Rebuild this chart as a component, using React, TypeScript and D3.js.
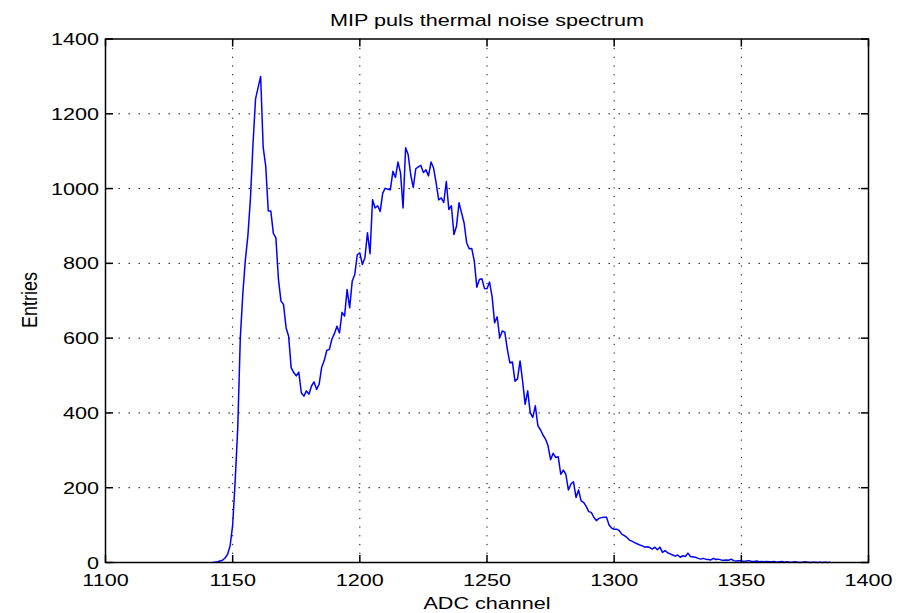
import React from "react";
import * as d3 from "d3";

const startChannel = 1142;
const entries = [
  0, 1, 2, 4, 6, 12, 22, 45, 100, 220,
  360, 600, 720, 810, 875, 975, 1120, 1240, 1270, 1300,
  1110, 1060, 940, 940, 880, 868, 757, 699, 690, 628,
  605, 521, 508, 499, 509, 454, 445, 459, 450, 472,
  483, 463, 477, 522, 540, 567, 570, 597, 612, 632,
  614, 669, 659, 730, 681, 752, 770, 823, 828, 797,
  815, 882, 826, 970, 948, 954, 939, 988, 1001, 998,
  997, 1046, 1030, 1071, 1042, 948, 1109, 1091, 1037, 1003,
  1053, 1058, 1062, 1043, 1050, 1034, 1071, 1055, 1015, 970,
  975, 963, 1019, 944, 954, 877, 899, 962, 935, 908,
  855, 839, 840, 806, 736, 757, 759, 733, 732, 750,
  711, 641, 657, 601, 619, 616, 570, 534, 536, 485,
  491, 539, 485, 423, 459, 401, 388, 419, 366, 355,
  341, 330, 312, 275, 292, 281, 283, 236, 247, 236,
  194, 210, 216, 174, 194, 165, 161, 150, 136, 134,
  121, 112, 118, 120, 121, 121, 100, 92, 89, 89,
  85, 76, 72, 67, 60, 57, 53, 50, 47, 45,
  41, 42, 40, 36, 41, 34, 41, 27, 32, 26,
  23, 20, 17, 20, 14, 18, 16, 25, 16, 15,
  14, 11, 9, 11, 9, 8, 7, 11, 8, 9,
  7, 6, 7, 6, 9, 5, 4, 5, 5, 3,
  4, 5, 3, 3, 4, 2, 3, 2, 3, 2,
  2, 3, 1, 2, 3, 1, 2, 1, 1, 2,
  1, 0, 1, 2, 1, 0, 1, 1, 0, 1,
  0, 1, 0, 1,
];

const xTicks = [1100, 1150, 1200, 1250, 1300, 1350, 1400];
const yTicks = [0, 200, 400, 600, 800, 1000, 1200, 1400];
const titleText = "MIP puls thermal noise spectrum";
const xLabel = "ADC channel";
const yLabel = "Entries";

export default function App() {
  const W = 912, H = 613;
  const left = 105.5, right = 868.5, top = 39, bottom = 562.5;
  const x = d3.scaleLinear().domain([1100, 1400]).range([left, right]);
  const y = d3.scaleLinear().domain([0, 1400]).range([bottom, top]);
  const data = entries.map((v, i) => ({ c: startChannel + i, v }));
  const line = d3
    .line<{ c: number; v: number }>()
    .x((d) => x(d.c))
    .y((d) => y(d.v));
  const sx = 1.27;
  const font = "'Liberation Sans', Arial, Helvetica, sans-serif";
  const tickLen = 7.5;

  return (
    <svg
      width={W}
      height={H}
      style={{ position: "absolute", left: 0, top: 0, background: "#fff" }}
      fontFamily={font}
    >
      <rect x={0} y={0} width={W} height={H} fill="#fff" />
      {/* grid */}
      {yTicks
        .filter((t) => t > 0 && t < 1400)
        .map((t) => (
          <line
            key={"gy" + t}
            x1={left}
            x2={right}
            y1={y(t)}
            y2={y(t)}
            stroke="#000"
            strokeWidth={1}
            strokeDasharray="1.4 8.6"
            strokeDashoffset={-3}
          />
        ))}
      {xTicks
        .filter((t) => t > 1100 && t < 1400)
        .map((t) => (
          <line
            key={"gx" + t}
            x1={x(t)}
            x2={x(t)}
            y1={bottom}
            y2={top}
            stroke="#000"
            strokeWidth={1}
            strokeDasharray="1.2 7.5"
          />
        ))}
      {/* data line */}
      <path d={line(data) || ""} fill="none" stroke="#0000ff" strokeWidth={1.5} strokeLinejoin="round" />
      {/* box */}
      <rect x={left} y={top} width={right - left} height={bottom - top} fill="none" stroke="#000" strokeWidth={1.5} />
      {/* ticks */}
      {xTicks.map((t) => (
        <g key={"tx" + t}>
          <line x1={x(t)} x2={x(t)} y1={bottom} y2={bottom - tickLen} stroke="#000" strokeWidth={1.5} />
          <line x1={x(t)} x2={x(t)} y1={top} y2={top + tickLen} stroke="#000" strokeWidth={1.5} />
          <text
            transform={`translate(${x(t)},${586}) scale(${sx},1)`}
            textAnchor="middle"
            fontSize={17}
            fill="#000"
          >
            {t}
          </text>
        </g>
      ))}
      {yTicks.map((t) => (
        <g key={"ty" + t}>
          <line x1={left} x2={left + tickLen} y1={y(t)} y2={y(t)} stroke="#000" strokeWidth={1.5} />
          <line x1={right} x2={right - tickLen} y1={y(t)} y2={y(t)} stroke="#000" strokeWidth={1.5} />
          <text
            transform={`translate(${99},${y(t) + 6}) scale(${sx},1)`}
            textAnchor="end"
            fontSize={17}
            fill="#000"
          >
            {t}
          </text>
        </g>
      ))}
      {/* title and labels */}
      <text
        transform={`translate(${(left + right) / 2},${26}) scale(${sx},1)`}
        textAnchor="middle"
        fontSize={17}
        fill="#000"
      >
        {titleText}
      </text>
      <text
        transform={`translate(${(left + right) / 2},${609}) scale(${sx},1)`}
        textAnchor="middle"
        fontSize={17}
        fill="#000"
      >
        {xLabel}
      </text>
      <text
        transform={`translate(${36.5},${300}) scale(${sx},1) rotate(-90)`}
        textAnchor="middle"
        fontSize={18}
        fill="#000"
      >
        {yLabel}
      </text>
    </svg>
  );
}
